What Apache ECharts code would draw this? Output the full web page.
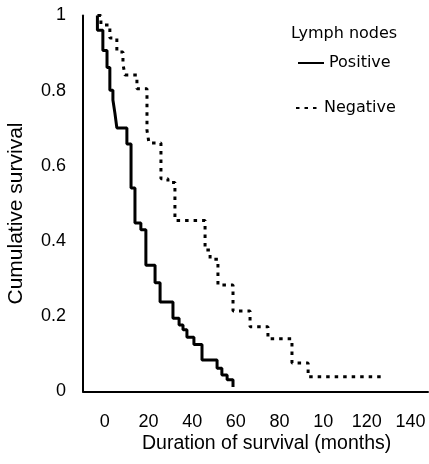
<!DOCTYPE html>
<html>
<head>
<meta charset="utf-8">
<script src="https://cdn.jsdelivr.net/npm/echarts@6/dist/echarts.min.js"></script>
<style>html,body{margin:0;padding:0;background:#fff}#c{width:429px;height:464px}</style>
</head>
<body>
<div id="c"></div>
<script>
// Months (step times) and cumulative survival after each step
const posTime = [-3.4, -3.4, -0.9, 1.0, 2.3, 3.7, 4.6, 5.5, 10.1, 12.0, 13.8, 16.5, 18.8, 23.0, 25.3, 31.2, 34.0, 35.8, 37.6, 40.8, 44.5, 51.4, 53.6, 56.0, 58.7];
const posSurv = [1.0, 0.961, 0.907, 0.862, 0.801, 0.775, 0.741, 0.701, 0.658, 0.541, 0.448, 0.430, 0.336, 0.289, 0.238, 0.195, 0.177, 0.164, 0.144, 0.125, 0.084, 0.062, 0.044, 0.031, 0.012];
const negTime = [-3.4, -1.8, 2.3, 5.5, 8.3, 9.2, 14.7, 19.3, 20.2, 25.7, 28.9, 32.1, 45.9, 48.2, 51.8, 58.7, 66.5, 74.7, 85.7, 93.1, 127.0, 127.0];
const negSurv = [1.0, 0.975, 0.940, 0.903, 0.871, 0.842, 0.805, 0.695, 0.661, 0.566, 0.556, 0.455, 0.376, 0.352, 0.283, 0.214, 0.172, 0.140, 0.076, 0.039, 0.039, 0.031];
const xTickValues = [0, 20, 40, 60, 80, 100, 120, 140];
const xTickLabels = ['0', '20', '40', '60', '80', '10', '120', '140'];
const yTickLabels = ['0', '0.2', '0.4', '0.6', '0.8', '1'];
const seriesNames = ['Positive', 'Negative'];
const legendTitle = 'Lymph nodes';
const xTitle = 'Duration of survival (months)';
const yTitle = 'Cumulative survival';

const zip = (a, b) => a.map((v, i) => [v, b[i]]);
const chart = echarts.init(document.getElementById('c'), null, {renderer: 'canvas'});
const legendText = {fontFamily: 'DejaVu Sans', fontSize: 16, color: '#000'};
chart.setOption({
  backgroundColor: '#fff',
  animation: false,
  title: [
    {text: legendTitle, left: 291, top: 26, padding: 0,
     textStyle: {fontFamily: 'DejaVu Sans', fontSize: 16, fontWeight: 'normal', color: '#000'}},
    {text: xTitle, left: 142, top: 434, padding: 0,
     textStyle: {fontFamily: 'Liberation Sans', fontSize: 19.5, lineHeight: 20, fontWeight: 'normal', color: '#000'}}
  ],
  legend: [
    {data: [seriesNames[0]], left: 297, top: 55, itemWidth: 26, itemHeight: 14, padding: 0,
     itemStyle: {opacity: 0}, textStyle: legendText},
    {data: [seriesNames[1]], left: 295, top: 100, itemWidth: 23, itemHeight: 14, padding: 0,
     itemStyle: {opacity: 0}, textStyle: legendText}
  ],
  grid: {left: 83, right: 1, top: 15.5, bottom: 72.5, outerBoundsMode: 'none'},
  xAxis: {
    type: 'value', min: -10, max: 148,
    splitLine: {show: false},
    axisTick: {show: false},
    axisLine: {onZero: false, lineStyle: {color: '#000', width: 2}},
    axisLabel: {
      margin: 22, fontFamily: 'Liberation Sans', fontSize: 18, color: '#000',
      hideOverlap: false,
      customValues: xTickValues,
      formatter: v => xTickLabels[xTickValues.indexOf(Math.round(v))]
    }
  },
  yAxis: {
    type: 'value', min: 0, max: 1, interval: 0.2,
    splitLine: {show: false}, axisTick: {show: false},
    axisLine: {show: true, onZero: false, lineStyle: {color: '#000', width: 2}},
    axisLabel: {
      margin: 17, fontFamily: 'Liberation Sans', fontSize: 18, color: '#000',
      formatter: v => yTickLabels[Math.round(v * 5)]
    },
    name: yTitle, nameLocation: 'middle', nameGap: 56, nameRotate: 90, nameMoveOverlap: false,
    nameTextStyle: {fontFamily: 'Liberation Sans', fontSize: 21, color: '#000', padding: [0, 20, 0, 0]}
  },
  series: [
    {name: seriesNames[0], type: 'line', step: 'end', symbol: 'none',
     data: zip(posTime, posSurv), lineStyle: {color: '#000', width: 3}, itemStyle: {color: '#000'}},
    {name: seriesNames[1], type: 'line', step: 'end', symbol: 'none',
     data: zip(negTime, negSurv), lineStyle: {color: '#000', width: 3, type: [3.5, 5], cap: 'butt'}, itemStyle: {color: '#000'}}
  ]
});
// Make sure every x-axis tick label created by the axis stays visible
try {
  const zr = chart.getZr();
  zr.storage.getRoots().forEach(root => {
    const visit = el => {
      if (el.style && typeof el.style.text === 'string' && xTickLabels.indexOf(el.style.text) >= 0) {
        el.ignore = false;
        el.invisible = false;
        if (el.style.opacity === 0) el.style.opacity = 1;
        el.markRedraw && el.markRedraw();
      }
    };
    visit(root);
    if (root.traverse) root.traverse(visit);
  });
  zr.refreshImmediately();
} catch (e) {}
</script>
</body>
</html>
